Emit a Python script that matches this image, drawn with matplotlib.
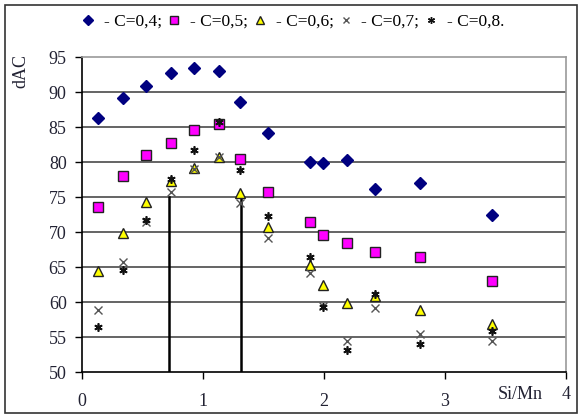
import matplotlib.pyplot as plt
from matplotlib.lines import Line2D
from matplotlib.patches import Rectangle

# Si/Mn ratio positions shared by all series
si_mn = [0.13, 0.336, 0.529, 0.736, 0.923, 1.13, 1.306, 1.54,
         1.884, 1.995, 2.19, 2.42, 2.79, 3.39]

dac_c04 = [86.3, 89.2, 90.9, 92.8, 93.4, 93.1, 88.6, 84.2,
           80.0, 79.9, 80.3, 76.1, 77.0, 72.4]
dac_c05 = [73.6, 78.0, 81.0, 82.8, 84.6, 85.5, 80.5, 75.8,
           71.4, 69.6, 68.5, 67.1, 66.4, 63.0]
dac_c06 = [64.5, 69.9, 74.3, 77.3, 79.2, 80.8, 75.6, 70.7,
           65.3, 62.5, 59.8, 60.8, 58.9, 56.9]
dac_c07 = [58.8, 65.8, 71.5, 75.7, 79.0, 80.8, 74.2, 69.1,
           64.1, 59.5, 54.4, 59.1, 55.4, 54.4]
dac_c08 = [56.4, 64.6, 71.8, 77.6, 81.8, 85.7, 78.9, 72.3,
           66.5, 59.3, 53.1, 61.1, 54.0, 55.8]

# boundary markers drawn as vertical lines
bound_x = [0.72, 1.314]
bound_top = [75.0, 74.8]

y_ticks = [50, 55, 60, 65, 70, 75, 80, 85, 90, 95]
x_ticks = [0, 1, 2, 3, 4]

serif = 'Liberation Serif'

fig = plt.figure(figsize=(5.8, 4.18), dpi=100)
ax = fig.add_axes([0.1414, 0.110, 0.8345, 0.753])

for y in y_ticks[1:-1]:
    ax.axhline(y, color='#3a3a3a', lw=1.1, zorder=1)

for xb, yt in zip(bound_x, bound_top):
    ax.plot([xb, xb], [50, yt], color='black', lw=1.8, zorder=2)

ax.plot(si_mn, dac_c04, ls='none', marker='D', ms=6.5, color='#000080',
        mec='#000080', zorder=3)
ax.plot(si_mn, dac_c05, ls='none', marker='s', ms=6.5, color='#ff00ff',
        mec='#222222', mew=1, zorder=3)
ax.plot(si_mn, dac_c06, ls='none', marker='^', ms=7, color='#ffff00',
        mec='#222222', mew=1, zorder=3)
ax.plot(si_mn, dac_c07, ls='none', marker='x', ms=6, color='#555555',
        mew=1, zorder=4)
ax.plot(si_mn, dac_c08, ls='none', marker=(6, 2, 0), ms=6, color='#111111',
        mew=1.2, zorder=4)

ax.set_xlim(0, 4)
ax.set_ylim(50, 95)
ax.set_xticks(x_ticks)
ax.set_yticks(y_ticks)
ax.set_xticklabels(['0', '1', '2', '3', ''])
ax.tick_params(direction='out', length=5, width=1, colors='black',
               labelsize=13, labelcolor='#222233')
ax.tick_params(axis='x', pad=10)
ax.tick_params(axis='y', pad=6)
for lbl in ax.get_xticklabels() + ax.get_yticklabels():
    lbl.set_family(serif)

for side in ['left', 'bottom']:
    ax.spines[side].set_color('black')
    ax.spines[side].set_linewidth(1.2)
for side in ['top', 'right']:
    ax.spines[side].set_color('#9a9a9a')
    ax.spines[side].set_linewidth(1.2)

ax.text(4.0, -0.045, '4', transform=ax.get_xaxis_transform(), ha='center',
        va='top', fontsize=13, family=serif, color='#222233')
ax.text(3.62, -0.045, 'Si/Mn', transform=ax.get_xaxis_transform(),
        ha='center', va='top', fontsize=13, family=serif, color='#222233')
fig.text(0.036, 0.83, 'dAC', rotation=90, ha='center', va='center',
         fontsize=13, family=serif, color='#222233')

handles = [
    Line2D([], [], ls='none', marker='D', ms=5, color='#000080'),
    Line2D([], [], ls='none', marker='s', ms=6, color='#ff00ff', mec='#222222'),
    Line2D([], [], ls='none', marker='^', ms=6, color='#ffff00', mec='#222222'),
    Line2D([], [], ls='none', marker='x', ms=5, color='#555555'),
    Line2D([], [], ls='none', marker=(6, 2, 0), ms=5, color='#111111'),
]
labels = ['- C=0,4;', '- C=0,5;', '- C=0,6;', '- C=0,7;', '- C=0,8.']
fig.legend(handles, labels, loc='center', bbox_to_anchor=(0.505, 0.948),
           ncol=5, frameon=False, handlelength=0.8, handletextpad=0.5,
           columnspacing=0.3, prop={'family': serif, 'size': 12.5})

fig.add_artist(Rectangle((0.009, 0.012), 0.985, 0.976, transform=fig.transFigure,
                         fill=False, ec='#333333', lw=1.2))

fig.savefig('out.png', dpi=100)
